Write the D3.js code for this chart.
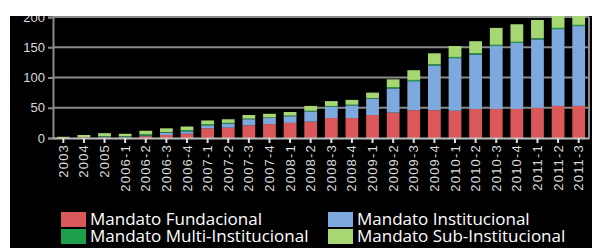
<!DOCTYPE html>
<html lang="es">
<head>
    <meta charset="UTF-8">
    <title>Mandatos por periodo</title>
    <script src="https://cdn.jsdelivr.net/npm/d3@7"></script>
    <style>
        body {
            margin: 0;
            padding: 0;
            background-color: #ffffff;
        }

        svg {
            display: block;
            font-family: 'Open Sans', sans-serif;
        }

        .grid line {
            stroke: #8a8a8a;
            stroke-width: 2px;
        }

        .axis text {
            fill: #dcdcdc;
            font-size: 13px;
        }

        .x-axis text {
            letter-spacing: 1.2px;
        }

        .legend text {
            fill: #ffffff;
            font-size: 17px;
        }
    </style>
</head>

<body>
    <div id="chart"></div>

    <script>
        // periods on the x axis
        var periods = ["2003", "2004", "2005", "2006-1", "2006-2", "2006-3", "2006-4",
            "2007-1", "2007-2", "2007-3", "2007-4", "2008-1", "2008-2", "2008-3", "2008-4",
            "2009-1", "2009-2", "2009-3", "2009-4", "2010-1", "2010-2", "2010-3", "2010-4",
            "2011-1", "2011-2", "2011-3"];

        // values, one array per series
        var fundacional      = [0, 1, 1, 1, 3, 5, 7, 16, 17, 21, 23, 25, 27, 33, 33, 38, 42, 46, 46, 45, 48, 48, 48, 50, 53, 53];
        var institucional    = [0, 0, 1, 1, 1, 4, 4, 5, 7, 10, 10, 11, 17, 19, 21, 27, 40, 48, 74, 87, 90, 104, 109, 113, 127, 132];
        var multiInst        = [0, 0, 1, 1, 2, 1, 2, 2, 1, 1, 1, 1, 1, 1, 1, 1, 2, 2, 2, 2, 2, 2, 2, 2, 2, 2];
        var subInst          = [2, 4, 5, 4, 6, 6, 6, 6, 6, 6, 6, 6, 8, 8, 8, 9, 13, 16, 18, 18, 20, 28, 29, 30, 28, 25];

        var yTicks = [0, 50, 100, 150, 200];

        var keys = ["Mandato Fundacional", "Mandato Institucional", "Mandato Multi-Institucional", "Mandato Sub-Institucional"];
        var seriesValues = [fundacional, institucional, multiInst, subInst];

        var colorScale = d3.scaleOrdinal()
            .domain(keys)
            .range(["#da585a", "#7ea9df", "#1d9e4a", "#a7d773"]);

        var table = periods.map(function(p, i) {
            var row = { period: p };
            keys.forEach(function(k, j) { row[k] = seriesValues[j][i]; });
            return row;
        });

        var width = 603, height = 248;
        var plot = { left: 53, right: 589, top: 17, bottom: 138 };

        var svg = d3.select("#chart")
            .append("svg")
            .attr("width", width)
            .attr("height", height);

        // black panel
        svg.append("rect")
            .attr("x", 10).attr("y", 16)
            .attr("width", 582).attr("height", height - 16)
            .attr("fill", "#000000");

        var x = d3.scaleBand().domain(periods).range([plot.left, plot.right]).paddingInner(0.38).paddingOuter(0.19);
        var y = d3.scaleLinear().domain([0, 200]).range([plot.bottom, plot.top]);

        // gridlines
        svg.append("g")
            .attr("class", "grid")
            .selectAll("line")
            .data(yTicks.slice(1))
            .join("line")
            .attr("x1", plot.left).attr("x2", plot.right)
            .attr("y1", d => y(d)).attr("y2", d => y(d));

        // stacked bottom -> top: fundacional, institucional, multi, sub
        var stack = d3.stack().keys(keys);
        var series = stack(table);

        svg.append("g")
            .selectAll("g")
            .data(series)
            .join("g")
            .attr("fill", d => colorScale(d.key))
            .selectAll("rect")
            .data(d => d)
            .join("rect")
            .attr("x", d => x(d.data.period))
            .attr("y", d => y(d[1]))
            .attr("height", d => y(d[0]) - y(d[1]))
            .attr("width", x.bandwidth());

        // y axis
        var yAxis = svg.append("g")
            .attr("class", "axis")
            .attr("transform", "translate(" + plot.left + ",0)")
            .call(d3.axisLeft(y).tickValues(yTicks).tickSize(5).tickPadding(3));
        yAxis.select(".domain").attr("stroke", "#8a8a8a").attr("stroke-width", 2);
        yAxis.selectAll(".tick line").attr("stroke", "#8a8a8a").attr("stroke-width", 2);

        // right border
        svg.append("line")
            .attr("x1", plot.right).attr("x2", plot.right)
            .attr("y1", plot.top).attr("y2", plot.bottom)
            .attr("stroke", "#8a8a8a").attr("stroke-width", 2);

        // x axis
        var xAxis = svg.append("g")
            .attr("class", "axis x-axis")
            .attr("transform", "translate(0," + plot.bottom + ")")
            .call(d3.axisBottom(x).tickSize(5).tickSizeOuter(0));
        xAxis.select(".domain").attr("stroke", "#bdbdbd").attr("stroke-width", 2);
        xAxis.selectAll(".tick line").attr("stroke", "#e0e0e0").attr("stroke-width", 2);
        xAxis.selectAll(".tick text")
            .attr("transform", "rotate(-90)")
            .attr("x", -6)
            .attr("y", 0)
            .attr("dy", "0.35em")
            .style("text-anchor", "end");

        // the picture is cropped at the top
        svg.append("rect")
            .attr("x", 0).attr("y", 0)
            .attr("width", width).attr("height", 16)
            .attr("fill", "#ffffff");

        // legend, two columns
        var legend = svg.selectAll(".legend")
            .data([keys[0], keys[2], keys[1], keys[3]])
            .enter().append("g")
            .attr("class", "legend")
            .attr("transform", function(d, i) {
                return "translate(" + (i < 2 ? 61 : 328) + "," + (212 + (i % 2) * 17) + ")";
            });

        legend.append("rect")
            .attr("width", 25)
            .attr("height", 15)
            .style("fill", colorScale);

        legend.append("text")
            .attr("x", 29)
            .attr("y", 13)
            .text(function(d) { return d; });
    </script>
</body>
</html>
